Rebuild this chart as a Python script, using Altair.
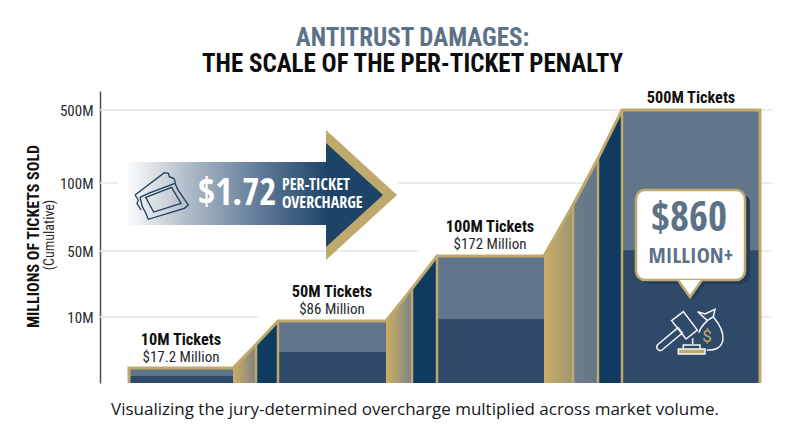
import altair as alt
import pandas as pd

# ---------- chart values ----------
tick_values = [10, 50, 100, 500]
grid_tick = [500, 500, 100, 100, 100, 50, 50, 10, 10]
grid_start = [100, 760, 100, 398, 760, 100, 760, 100, 760]
grid_end = [622, 773, 118, 583, 773, 418, 772, 258, 772]

step_start = [129, 278, 437, 622]
step_end = [233, 386, 544, 760]
step_total = [10, 50, 100, 500]
step_inner = [4.7, 23.6, 51.5, 116]
step_x = [181, 332, 490, 691]
step_head = ["10M Tickets", "50M Tickets", "100M Tickets", "500M Tickets"]
step_sub = ["$17.2 Million", "$86 Million", "$172 Million", ""]
head_y = [340, 292, 227, 98]
sub_y = [357, 309, 244, 0]

outline_x = [129, 129, 233, 256, 278, 386, 412, 437, 544, 573, 598, 622, 760, 760]
outline_t = [0, 10, 10, 30, 50, 50, 75, 100, 100, 240, 367, 500, 500, 0]

sep_x = [256, 278, 412, 437, 573, 598, 622]
sep_t = [30, 50, 75, 100, 240, 367, 500]

GOLD = "#c0a96c"
LIGHT = "#61768a"
DARK = "#2f4a69"
NAVY = "#0f3b60"
INK = "#111111"
NARROW = "Roboto Condensed"
TIGHT = "Open Sans Condensed"


def grad(stops):
    return alt.Gradient(
        gradient="linear", x1=0, y1=0, x2=1, y2=0,
        stops=[alt.GradientStop(offset=o, color=c) for o, c in stops],
    )


x_scale = alt.Scale(domain=[100, 773], range=[0, 673], nice=False, zero=False)
bar_scale = alt.Scale(domain=[0, 10, 50, 100, 500], range=[292, 277, 230, 165, 19], nice=False, zero=False)
axis_scale = alt.Scale(domain=[0, 10, 50, 100, 500, 600], range=[292, 226, 160, 92, 19, 0], nice=False, zero=False)
over_scale = alt.Scale(domain=[91, 383], range=[0, 292], nice=False, zero=False)

X = alt.X("x:Q", scale=x_scale, axis=None)
Y_BAR = alt.Y("t:Q", scale=bar_scale, axis=None)
Y_OVER = alt.Y("y:Q", scale=over_scale, axis=None)

layers = []

# axes
axis_df = pd.DataFrame({"x": [100, 773], "t": [0, 0]})
layers.append(
    alt.Chart(axis_df).mark_line(opacity=0).encode(
        x=alt.X("x:Q", scale=x_scale,
                axis=alt.Axis(labels=False, ticks=False, title=None, grid=False,
                              domainColor="#4a4f55", domainWidth=1.5)),
        y=alt.Y("t:Q", scale=axis_scale,
                axis=alt.Axis(values=tick_values, labelExpr="datum.value + 'M'", grid=False,
                              ticks=False, domainColor="#4a4f55", domainWidth=1.5,
                              labelFont=NARROW, labelFontSize=15, labelColor="#26292c",
                              labelPadding=7,
                              title="MILLIONS OF TICKETS SOLD", titleFont=NARROW,
                              titleFontSize=16, titleFontWeight="bold", titleColor=INK,
                              titleX=-59, titleY=145, titleAnchor="middle")),
    )
)

# grid segments
grid_df = pd.DataFrame({"x": grid_start, "x2": grid_end, "t": grid_tick})
layers.append(
    alt.Chart(grid_df).mark_rule(color="#e4e4e4", strokeWidth=1.3).encode(
        x=X, x2="x2:Q", y=alt.Y("t:Q", scale=axis_scale, axis=None)
    )
)

# steps
step_df = pd.DataFrame({"x": step_start, "x2": step_end, "t": step_total, "inner": step_inner, "b": 0})
layers.append(alt.Chart(step_df).mark_rect(color=LIGHT).encode(x=X, x2="x2:Q", y=Y_BAR, y2="b:Q"))
layers.append(
    alt.Chart(step_df).mark_rect(color=DARK).encode(
        x=X, x2="x2:Q", y=alt.Y("inner:Q", scale=bar_scale, axis=None), y2="b:Q"
    )
)


def ramp(xs, ts, fill):
    df = pd.DataFrame({"x": xs, "t": ts, "b": 0})
    return alt.Chart(df).mark_area(color=fill).encode(x=X, y=Y_BAR, y2="b:Q")


gold_gray = grad([(0, "#c9ad66"), (0.45, "#ac9c71"), (1, "#7c8086")])
layers += [
    ramp([233, 256], [10, 30], gold_gray),
    ramp([256, 278], [30, 50], NAVY),
    ramp([386, 412], [50, 75], gold_gray),
    ramp([412, 437], [75, 100], NAVY),
    ramp([544, 573], [100, 240], grad([(0, "#c9ad66"), (1, "#a09570")])),
    ramp([573, 598], [240, 367], grad([(0, "#6f7d88"), (1, LIGHT)])),
    ramp([598, 622], [367, 500], NAVY),
]

# separators and outline
sep_df = pd.DataFrame({"x": sep_x, "t": sep_t, "b": 0})
layers.append(alt.Chart(sep_df).mark_rule(color=GOLD, strokeWidth=2.5).encode(x=X, y=Y_BAR, y2="b:Q"))
out_df = pd.DataFrame({"x": outline_x, "t": outline_t, "i": range(len(outline_x))})
layers.append(
    alt.Chart(out_df).mark_line(color=GOLD, strokeWidth=3, strokeJoin="miter").encode(
        x=X, y=Y_BAR, order="i:Q"
    )
)

# arrow
arrow_shaft = pd.DataFrame({"x": [125], "x2": [327], "y": [162], "y2": [225]})
layers.append(
    alt.Chart(arrow_shaft).mark_rect(
        color=grad([(0, "#ffffff"), (0.34, "#a9b6c4"), (0.75, "#4f6d8c"), (1, "#1f4569")])
    ).encode(x=X, x2="x2:Q", y=Y_OVER, y2="y2:Q")
)


def tri(xs, ys, y2s, fill):
    df = pd.DataFrame({"x": xs, "y": ys, "y2": y2s})
    return alt.Chart(df).mark_area(color=fill).encode(x=X, y=Y_OVER, y2="y2:Q")


layers.append(tri([326, 397], [130, 195], [260, 195], GOLD))
layers.append(tri([326, 383], [143, 195], [247, 195], "#1d4367"))


def text(xs, ys, labels, font=NARROW, size=15, weight="normal", color=INK, angle=None, align="center"):
    df = pd.DataFrame({"x": xs, "y": ys, "s": labels})
    kw = {"angle": angle} if angle is not None else {}
    return alt.Chart(df).mark_text(
        font=font, fontSize=size, fontWeight=weight, color=color, align=align,
        baseline="middle", **kw
    ).encode(x=X, y=Y_OVER, text="s:N")


layers.append(text([198], [194], ["$1.72"], font=TIGHT, size=37, weight="bold", color="#ffffff", align="left"))
layers.append(text([282, 282], [185, 203], ["PER-TICKET", "OVERCHARGE"], font=TIGHT, size=16, weight="bold", color="#ffffff", align="left"))


ticket_path = (
    "M-0.571,0.067 L-0.333,-0.048 L0.429,-0.333 L0.505,-0.162 L0.810,0.286 L0.695,0.381 "
    "L-0.333,0.695 L-0.410,0.505 L-0.505,0.333 Z "
    "M-0.410,0.067 L0.333,-0.219 L0.600,0.238 L-0.181,0.486 Z "
    "M-0.714,0 L0.124,-0.638 L0.238,-0.619 L0.267,-0.524 L0.390,-0.476 L0.448,-0.352 "
    "M-0.714,0 L-0.619,0.143 L-0.657,0.238 L-0.543,0.429"
)
layers.append(
    alt.Chart(pd.DataFrame({"x": [160], "y": [195]})).mark_point(
        shape=ticket_path, size=4900, filled=False, stroke="#1d3d5c", strokeWidth=1.3, opacity=1
    ).encode(x=X, y=Y_OVER)
)

# callout
shadow = pd.DataFrame({"x": [640], "x2": [750], "y": [194], "y2": [284]})
layers.append(alt.Chart(shadow).mark_rect(color="#223c5a", cornerRadius=9).encode(x=X, x2="x2:Q", y=Y_OVER, y2="y2:Q"))
layers.append(tri([683, 694, 706], [283, 283, 283], [283, 299, 283], "#223c5a"))
box = pd.DataFrame({"x": [636], "x2": [745], "y": [190], "y2": [280]})
layers.append(
    alt.Chart(box).mark_rect(color="#ffffff", stroke=GOLD, strokeWidth=2.5, cornerRadius=9).encode(
        x=X, x2="x2:Q", y=Y_OVER, y2="y2:Q"
    )
)
layers.append(tri([678, 690, 702], [280, 280, 280], [280, 297, 280], "#ffffff"))
tail_df = pd.DataFrame({"x": [678, 690, 702], "y": [280, 297, 280]})
layers.append(alt.Chart(tail_df).mark_line(color=GOLD, strokeWidth=2.5).encode(x=X, y=Y_OVER))
layers.append(text([689], [219], ["$860"], font=TIGHT, size=41, weight="bold", color="#5d7287"))
layers.append(text([691], [256], ["MILLION+"], font=TIGHT, size=22, weight="bold", color="#5d7287"))

# gavel and bag icon, unit box spans 90 px around its centre
gavel_path = (
    "M-0.519,-0.319 L-0.259,-0.519 L0.052,-0.111 L-0.200,0.089 Z "
    "M-0.837,0.222 L-0.378,-0.163 L-0.281,-0.044 L-0.733,0.333 C-0.800,0.380 -0.880,0.290 -0.837,0.222 Z "
    "M-0.052,0.074 L-0.052,0.200 "
    "M-0.259,0.222 L0.111,0.222 L0.111,0.311 L-0.259,0.311 Z "
    "M-0.370,0.311 L0.222,0.311 L0.222,0.422 L-0.370,0.422 Z "
    "M0.059,-0.519 L0.222,-0.467 L0.444,-0.570 L0.407,-0.407 L0.274,-0.319 Z "
    "M0.274,-0.319 C0.160,-0.210 0.100,-0.120 0.090,-0.050 "
    "M0.407,-0.407 C0.560,-0.220 0.640,-0.050 0.620,0.100 C0.600,0.290 0.430,0.350 0.260,0.333"
)
gold_base = pd.DataFrame({"x": [678], "x2": [705], "y": [349], "y2": [354]})
layers.append(alt.Chart(gold_base).mark_rect(color=GOLD).encode(x=X, x2="x2:Q", y=Y_OVER, y2="y2:Q"))
layers.append(
    alt.Chart(pd.DataFrame({"x": [695], "y": [335]})).mark_point(
        shape=gavel_path, size=8100, filled=False, stroke="#f4f5f6", strokeWidth=1.5, opacity=1
    ).encode(x=X, y=Y_OVER)
)
layers.append(text([707], [337], ["$"], font="Roboto", size=17, color="#c6aa62"))

# step labels
layers.append(text(step_x, head_y, step_head, size=16.3, weight="bold"))
layers.append(text(step_x[:3], sub_y[:3], step_sub[:3], size=15, color="#26292c"))

# side note and caption
layers.append(text([50], [235], ["(Cumulative)"], size=14, color="#26292c", angle=270))
layers.append(text([415], [410], ["Visualizing the jury-determined overcharge multiplied across market volume."],
                   font="Open Sans", size=17, color="#15181b"))

chart = (
    alt.layer(*layers)
    .resolve_scale(y="independent")
    .properties(
        width=673,
        height=292,
        padding={"left": 92, "top": 83, "right": 19, "bottom": 56},
        autosize=alt.AutoSizeParams(type="none"),
        background="#ffffff",
        title=alt.TitleParams(
            text="ANTITRUST DAMAGES:",
            subtitle="THE SCALE OF THE PER-TICKET PENALTY",
            font=NARROW, fontSize=25, fontWeight="bold", color="#5d7287",
            subtitleFont=NARROW, subtitleFontSize=25, subtitleFontWeight="bold",
            subtitleColor="#0c0c0c", subtitlePadding=1,
            anchor="middle", dx=-24, offset=13,
        ),
    )
    .configure_view(stroke=None)
)

chart.save("out.html", embed_options={"renderer": "svg", "actions": False})
